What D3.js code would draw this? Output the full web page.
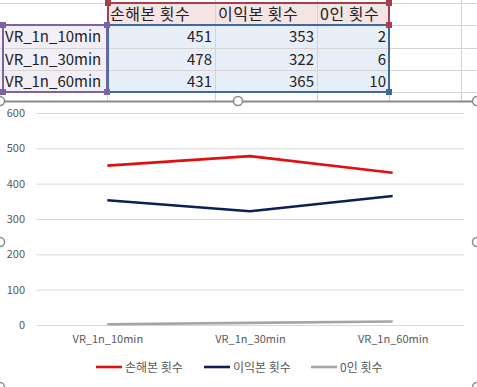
<!DOCTYPE html>
<html><head><meta charset="utf-8">
<script src="https://cdn.jsdelivr.net/npm/d3@7/dist/d3.min.js"></script>
<style>
html,body{margin:0;padding:0;background:#fff;overflow:hidden}
svg{display:block;font-family:"Noto Sans CJK KR","Noto Sans",sans-serif}
</style></head><body>
<svg id="c" width="477" height="387"></svg>
<script>
const categories = ["VR_1n_10min", "VR_1n_30min", "VR_1n_60min"];
const seriesNames = ["손해본 횟수", "이익본 횟수", "0인 횟수"];
const lossCounts = [451, 478, 431];
const gainCounts = [353, 322, 365];
const zeroCounts = [2, 6, 10];
const yTicks = [0, 100, 200, 300, 400, 500, 600];
const seriesColors = ["#e01010", "#0a1f55", "#a5a5a5"];

const svg = d3.select("#c");
const seriesValues = [lossCounts, gainCounts, zeroCounts];

// ---- spreadsheet background ----
const colEdges = [0, 107, 215, 317, 389, 461];
const rowEdges = [3, 25, 48, 70, 92];
const sheet = svg.append("g");
[107, 215, 317, 389, 461].forEach(x => sheet.append("line").attr("x1", x + .5).attr("x2", x + .5).attr("y1", 0).attr("y2", 101).attr("stroke", "#d4d4d4"));
[3, 25, 48, 70, 92].forEach(y => sheet.append("line").attr("x1", 0).attr("x2", 477).attr("y1", y + .5).attr("y2", y + .5).attr("stroke", "#d4d4d4"));

sheet.append("rect").attr("x", 107).attr("y", 3).attr("width", 282).attr("height", 22).attr("fill", "#f5e4e4");
sheet.append("rect").attr("x", 0).attr("y", 25).attr("width", 107).attr("height", 67).attr("fill", "#f1eef6");
sheet.append("rect").attr("x", 107).attr("y", 25).attr("width", 282).attr("height", 67).attr("fill", "#e8eef8");
[215, 317].forEach(x => sheet.append("line").attr("x1", x + .5).attr("x2", x + .5).attr("y1", 3).attr("y2", 92).attr("stroke", "#d4d4d4"));
[48, 70].forEach(y => sheet.append("line").attr("x1", 0).attr("x2", 389).attr("y1", y + .5).attr("y2", y + .5).attr("stroke", "#d4d4d4"));

const cellFont = 15;
seriesNames.forEach((n, i) => {
  sheet.append("text").attr("x", colEdges[i + 1] + 3).attr("y", 20).attr("font-size", 16).attr("letter-spacing", 0.5).attr("fill", "#222").text(n);
});
categories.forEach((c, r) => {
  sheet.append("text").attr("x", 5).attr("y", rowEdges[r + 1] + 17).attr("font-size", cellFont).attr("fill", "#222").text(c);
  seriesValues.forEach((vals, i) => {
    sheet.append("text").attr("x", colEdges[i + 2] - 3).attr("y", rowEdges[r + 1] + 17).attr("text-anchor", "end").attr("font-size", cellFont).attr("fill", "#222").text(vals[r]);
  });
});

sheet.append("rect").attr("x", 108).attr("y", 3).attr("width", 281).attr("height", 22).attr("fill", "none").attr("stroke", "#a3404e").attr("stroke-width", 2);
sheet.append("rect").attr("x", 108).attr("y", 25).attr("width", 281).attr("height", 67).attr("fill", "none").attr("stroke", "#3f6a98").attr("stroke-width", 2);
sheet.append("rect").attr("x", 3).attr("y", 25).attr("width", 104).attr("height", 67).attr("fill", "none").attr("stroke", "#7b62a0").attr("stroke-width", 2);
function handle(x, y, col) { sheet.append("rect").attr("x", x - 3).attr("y", y - 3).attr("width", 6).attr("height", 6).attr("fill", col); }
handle(389, 3, "#a3404e"); handle(389, 25, "#a3404e"); handle(108, 3, "#a3404e");
handle(3, 25, "#7b62a0"); handle(107, 25, "#7b62a0"); handle(3, 92, "#7b62a0"); handle(107, 92, "#7b62a0");
handle(389, 92, "#3f6a98");

// ---- chart ----
const chart = svg.append("g");
chart.append("rect").attr("x", 0).attr("y", 101).attr("width", 477).attr("height", 290).attr("fill", "#fff");
chart.append("line").attr("x1", 0).attr("x2", 477).attr("y1", 101.5).attr("y2", 101.5).attr("stroke", "#8a8a8a").attr("stroke-width", 2);

const x = d3.scalePoint().domain(categories).range([36, 464]).padding(0.5);
const y = d3.scaleLinear().domain([0, 600]).range([325, 113]);

const yAxis = chart.append("g").attr("transform", "translate(36,0)")
  .call(d3.axisLeft(y).tickValues(yTicks).tickSize(-428).tickPadding(11));
yAxis.select(".domain").remove();
yAxis.selectAll(".tick line").attr("stroke", "#d9d9d9");
yAxis.selectAll("text").attr("fill", "#595959").attr("font-size", 11).attr("font-family", "'Noto Sans CJK KR',sans-serif");

const xAxis = chart.append("g").attr("transform", "translate(0,325)")
  .call(d3.axisBottom(x).tickSize(0).tickPadding(10));
xAxis.select(".domain").remove();
xAxis.selectAll("text").attr("fill", "#595959").attr("font-size", 11).attr("font-family", "'Noto Sans CJK KR',sans-serif");

const line = d3.line().x((d, i) => x(categories[i])).y(d => y(d));
seriesValues.forEach((vals, i) => {
  chart.append("path").datum(vals).attr("d", line).attr("fill", "none")
    .attr("stroke", seriesColors[i]).attr("stroke-width", 2.6).attr("stroke-linejoin", "round");
});

const legendX = [96, 204, 311];
seriesNames.forEach((n, i) => {
  const g = chart.append("g").attr("transform", `translate(${legendX[i]},367)`);
  g.append("line").attr("x1", 0).attr("x2", 26).attr("stroke", seriesColors[i]).attr("stroke-width", 2.6);
  g.append("text").attr("x", 29).attr("y", 4.5).attr("font-size", 12).attr("fill", "#595959").text(n);
});

function circ(cx, cy) { chart.append("circle").attr("cx", cx).attr("cy", cy).attr("r", 4.5).attr("fill", "#fff").attr("stroke", "#8a8a8a").attr("stroke-width", 1.5); }
circ(0, 101); circ(238, 101); circ(477, 101); circ(0, 242); circ(477, 242); circ(0, 387); circ(477, 387);
</script>
</body></html>
